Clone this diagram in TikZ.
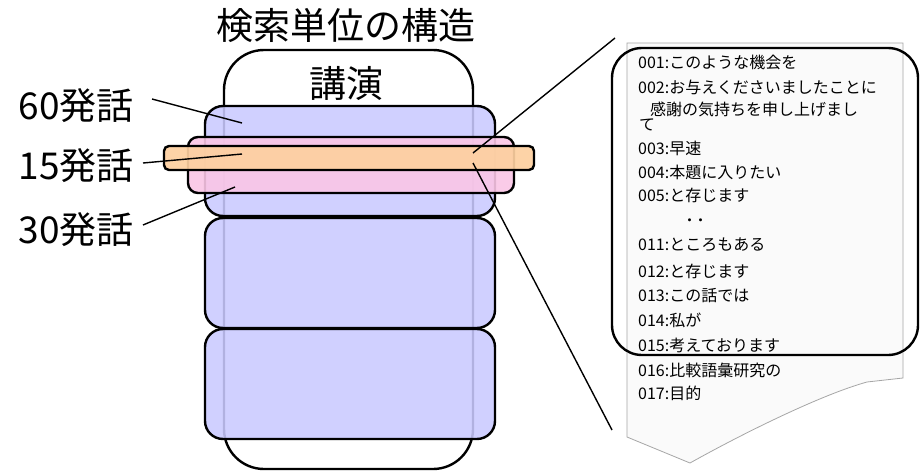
\documentclass[tikz,border=0pt]{standalone}
\usepackage{fontspec}
\setmainfont{Noto Sans CJK JP}
\definecolor{blueU}{RGB}{202,202,255}
\definecolor{pinkU}{RGB}{250,198,230}
\definecolor{orangeU}{RGB}{253,208,160}
\definecolor{docfill}{RGB}{250,250,250}
\begin{document}
\begin{tikzpicture}[x=1pt,y=-1pt,
  unit/.style={draw=black,line width=2.4pt,rectangle,inner sep=0pt,outer sep=0pt},
  bigtext/.style={inner sep=0pt,font=\fontsize{37}{37}\selectfont},
  labeltext/.style={inner sep=0pt,anchor=east,font=\fontsize{37}{37}\selectfont},
  listtext/.style={inner sep=0pt,anchor=west,font=\fontsize{16}{16}\selectfont},
  conn/.style={draw=black,line width=1.4pt}]
\fill[white] (0,0) rectangle (921,471);
\useasboundingbox (0,0) rectangle (921,471);
% lecture
\node[unit,fill=white,rounded corners=40pt,minimum width=249pt,minimum height=419pt] (lecture) at (348.5,259.5) {};
% 60-utterance units
\node[unit,fill=blueU,fill opacity=0.88,rounded corners=18pt,minimum width=290pt,minimum height=110pt] (u1) at (350,161) {};
\node[unit,fill=blueU,fill opacity=0.88,rounded corners=18pt,minimum width=290pt,minimum height=110pt] (u2) at (350,273) {};
\node[unit,fill=blueU,fill opacity=0.88,rounded corners=18pt,minimum width=290pt,minimum height=110pt] (u3) at (350,384) {};
% 30-utterance unit
\node[unit,fill=pinkU,fill opacity=0.9,rounded corners=10pt,minimum width=326pt,minimum height=56pt] (p30) at (351,165) {};
% 15-utterance unit
\node[unit,fill=orangeU,fill opacity=0.92,rounded corners=5pt,minimum width=370pt,minimum height=24pt] (o15) at (349,158) {};
% texts
\node[bigtext] (title) at (346,26) {検索単位の構造};
\node[bigtext] (lect) at (346,83) {講演};
\node[labeltext] (l60) at (134,106) {60発話};
\node[labeltext] (l15) at (134,166) {15発話};
\node[labeltext] (l30) at (134,230) {30発話};
% connector ends
\coordinate (a60) at (152,99);  \coordinate (b60) at (242,123);
\coordinate (a15) at (143,163); \coordinate (b15) at (242,154);
\coordinate (a30) at (143,225); \coordinate (b30) at (235,187);
\coordinate (r1) at (473,153);  \coordinate (r1e) at (615,38);
\coordinate (r2) at (473,163);  \coordinate (r2e) at (612,430);
\draw[conn] (a60) -- (b60);
\draw[conn] (a15) -- (b15);
\draw[conn] (a30) -- (b30);
\draw[conn] (r1) -- (r1e);
\draw[conn] (r2) -- (r2e);
% document
\draw[draw=gray!70,fill=docfill,line width=0.8pt] (627,43) -- (903,43) -- (903,378) -- (867,382)
  .. controls (820,395) and (740,435) .. (690,463) -- (627,437) -- cycle;
\node[listtext] (t1) at (638,62) {001:このような機会を};
\node[listtext] (t2) at (638,87) {002:お与えくださいましたことに};
\node[listtext] (t2b) at (650,109) {感謝の気持ちを申し上げまし};
\node[listtext] (t2c) at (639,125) {て};
\node[listtext] (t3) at (638,148) {003:早速};
\node[listtext] (t4) at (638,172) {004:本題に入りたい};
\node[listtext] (t5) at (638,195) {005:と存じます};
\node[listtext,font=\fontsize{11}{11}\selectfont\bfseries] (dots) at (684,222) {・・};
\node[listtext] (t11) at (638,245) {011:ところもある};
\node[listtext] (t12) at (638,271) {012:と存じます};
\node[listtext] (t13) at (638,296) {013:この話では};
\node[listtext] (t14) at (638,320) {014:私が};
\node[listtext] (t15) at (638,345) {015:考えております};
\node[listtext] (t16) at (638,370) {016:比較語彙研究の};
\node[listtext] (t17) at (638,393) {017:目的};
% selection
\node[draw=black,line width=2.4pt,rounded corners=30pt,minimum width=306pt,minimum height=307pt,inner sep=0pt] (sel) at (765,201.5) {};
\end{tikzpicture}
\end{document}
